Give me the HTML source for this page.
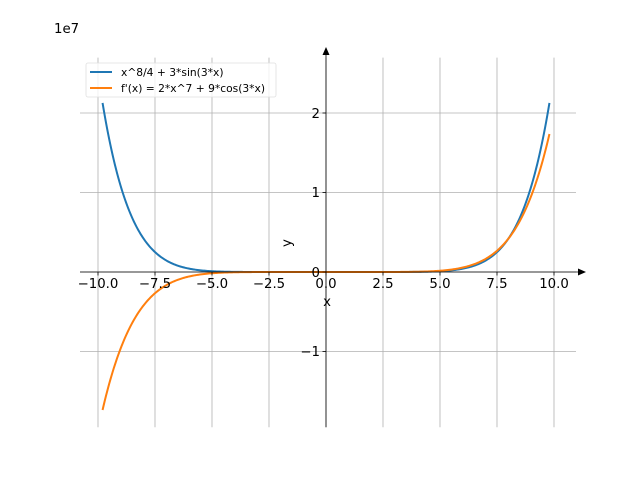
<!DOCTYPE html>
<html><head><meta charset="utf-8"><style>
html,body{margin:0;padding:0;background:#fff;}
svg{display:block;font-family:"DejaVu Sans","Liberation Sans",sans-serif;}
</style></head><body>
<svg id="s" width="640" height="480" viewBox="0 0 640 480" xmlns="http://www.w3.org/2000/svg">
<rect width="640" height="480" fill="#fff"/>
<g stroke="#b0b0b0" stroke-width="0.8">
<line x1="98" y1="57.6" x2="98" y2="427.2"/>
<line x1="155" y1="57.6" x2="155" y2="427.2"/>
<line x1="212" y1="57.6" x2="212" y2="427.2"/>
<line x1="269" y1="57.6" x2="269" y2="427.2"/>
<line x1="326" y1="57.6" x2="326" y2="427.2"/>
<line x1="383" y1="57.6" x2="383" y2="427.2"/>
<line x1="440" y1="57.6" x2="440" y2="427.2"/>
<line x1="497" y1="57.6" x2="497" y2="427.2"/>
<line x1="554" y1="57.6" x2="554" y2="427.2"/>
<line x1="80" y1="351.5" x2="576" y2="351.5"/>
<line x1="80" y1="272" x2="576" y2="272"/>
<line x1="80" y1="192.5" x2="576" y2="192.5"/>
<line x1="80" y1="113" x2="576" y2="113"/>
</g>
<polyline id="b" fill="none" stroke="#1f77b4" stroke-width="2"/>
<polyline id="o" fill="none" stroke="#ff7f0e" stroke-width="2"/>
<g stroke="#000" stroke-width="0.8">
<line x1="80" y1="272" x2="580" y2="272"/>
<line x1="326" y1="427.2" x2="326" y2="53"/>
</g>
<polygon points="586,272 578,268.5 578,275.5" fill="#000"/>
<polygon points="326,47 322.5,55 329.5,55" fill="#000"/>
<g stroke="#000" stroke-width="0.8">
<line x1="98" y1="272" x2="98" y2="275.5"/><line x1="155" y1="272" x2="155" y2="275.5"/>
<line x1="212" y1="272" x2="212" y2="275.5"/><line x1="269" y1="272" x2="269" y2="275.5"/>
<line x1="326" y1="272" x2="326" y2="275.5"/><line x1="383" y1="272" x2="383" y2="275.5"/>
<line x1="440" y1="272" x2="440" y2="275.5"/><line x1="497" y1="272" x2="497" y2="275.5"/>
<line x1="554" y1="272" x2="554" y2="275.5"/>
<line x1="322.5" y1="351.5" x2="326" y2="351.5"/><line x1="322.5" y1="272" x2="326" y2="272"/>
<line x1="322.5" y1="192.5" x2="326" y2="192.5"/><line x1="322.5" y1="113" x2="326" y2="113"/>
</g>
<g font-size="13.3" fill="#000" text-anchor="middle">
<text x="98" y="288">−10.0</text><text x="155" y="288">−7.5</text>
<text x="212" y="288">−5.0</text><text x="269" y="288">−2.5</text>
<text x="326" y="288">0.0</text><text x="383" y="288">2.5</text>
<text x="440" y="288">5.0</text><text x="497" y="288">7.5</text>
<text x="554" y="288">10.0</text>
<text x="327" y="306">x</text>
</g>
<g font-size="13.3" fill="#000" text-anchor="end">
<text x="320" y="356">−1</text><text x="320" y="277">0</text>
<text x="320" y="197">1</text><text x="320" y="118">2</text>
</g>
<text x="54" y="33" font-size="13.3">1e7</text>
<text transform="translate(291,243) rotate(-90)" font-size="13.3" text-anchor="middle">y</text>
<rect x="86" y="63" width="190" height="34" rx="2" fill="#fff" fill-opacity="0.8" stroke="#e0e0e0" stroke-width="0.8"/>
<line x1="90" y1="72" x2="112" y2="72" stroke="#1f77b4" stroke-width="2"/>
<line x1="90" y1="88" x2="112" y2="88" stroke="#ff7f0e" stroke-width="2"/>
<text x="121" y="76" font-size="10.7">x^8/4 + 3*sin(3*x)</text>
<text x="121" y="92" font-size="10.7">f'(x) = 2*x^7 + 9*cos(3*x)</text>
</svg>
<script>
var b=[],o=[];
for(var i=0;i<=400;i++){var x=-9.8+19.6*i/400;
var px=326+x*22.8;
var f=Math.pow(x,8)/4+3*Math.sin(3*x), g=2*Math.pow(x,7)+9*Math.cos(3*x);
b.push(px.toFixed(2)+","+(272-f/1e7*79.5).toFixed(2));
o.push(px.toFixed(2)+","+(272-g/1e7*79.5).toFixed(2));}
document.getElementById("b").setAttribute("points",b.join(" "));
document.getElementById("o").setAttribute("points",o.join(" "));
</script>
</body></html>
